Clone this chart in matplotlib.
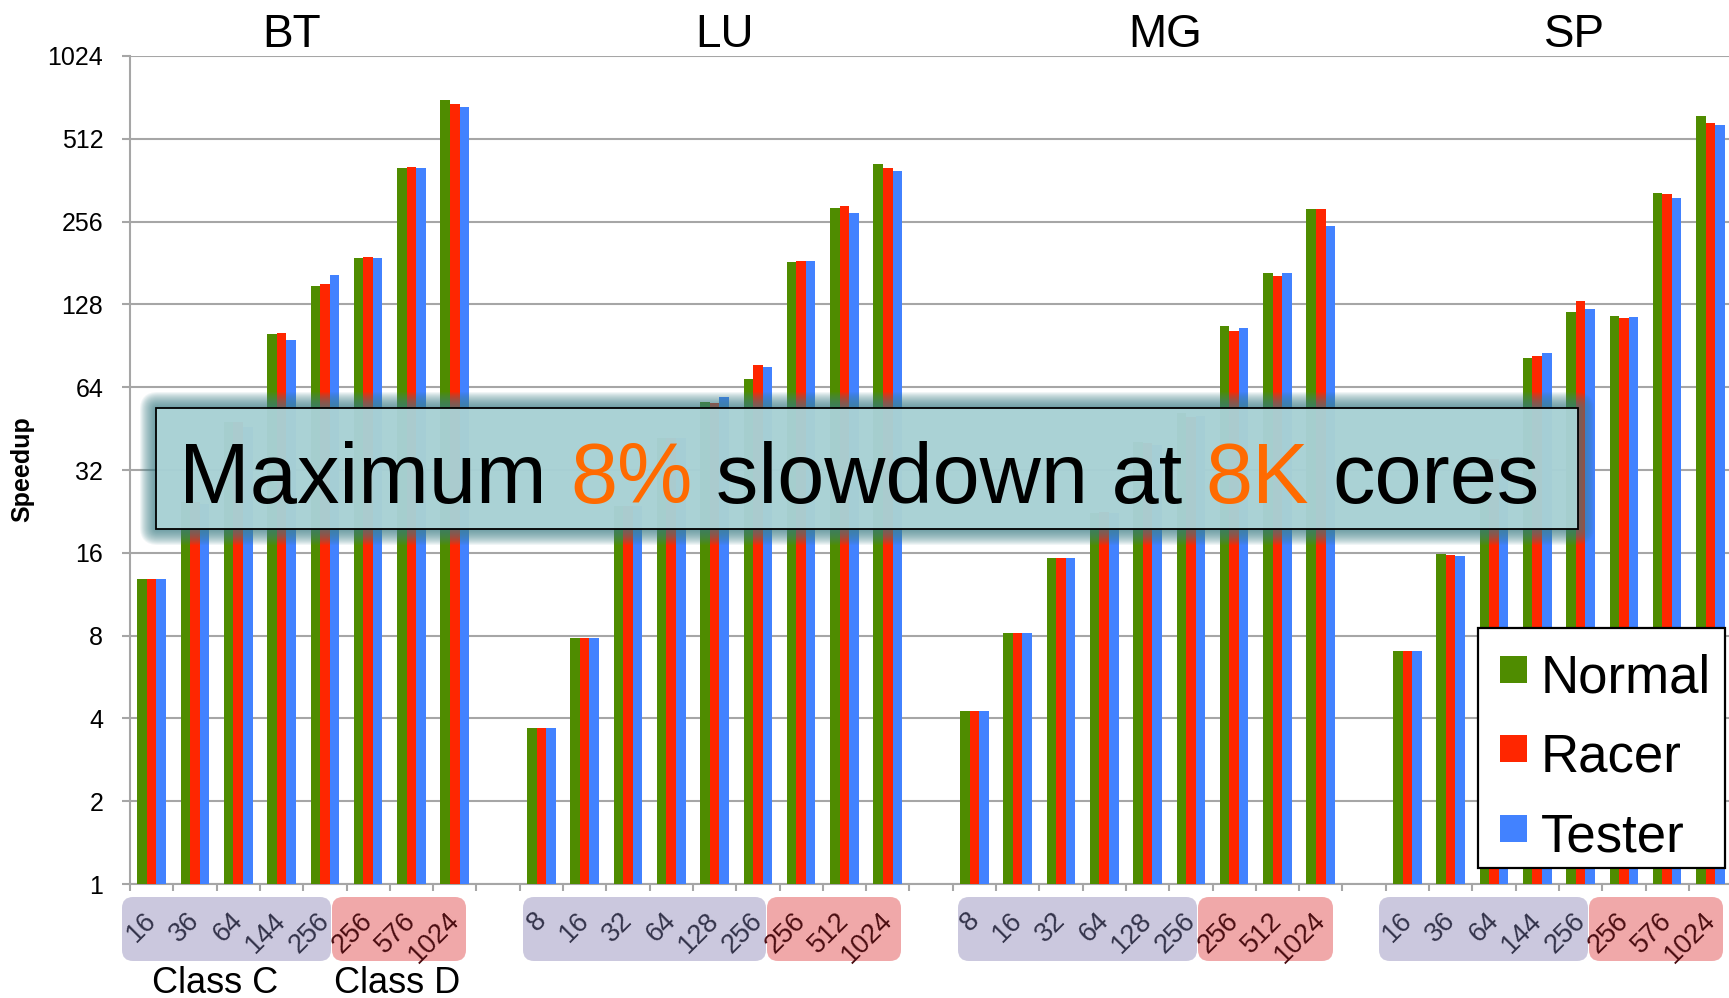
import matplotlib
matplotlib.use('Agg')
import matplotlib.pyplot as plt
from matplotlib.patches import FancyBboxPatch, Rectangle
from matplotlib.transforms import ScaledTranslation

plt.rcParams['font.family'] = ['Liberation Sans', 'DejaVu Sans']

# ---------------- data ----------------
benchmarks = ['BT', 'LU', 'MG', 'SP']
series = ['Normal', 'Racer', 'Tester']
colors = ['#4f8c00', '#ff2600', '#4282ff']

bt_procs = ['16', '36', '64', '144', '256', '256', '576', '1024']
bt_class = ['C', 'C', 'C', 'C', 'C', 'D', 'D', 'D']
bt_normal = [12.8, 24.5, 48, 99.8, 149, 188, 402, 708]
bt_racer = [12.8, 24.5, 48, 100.5, 151.5, 190, 405, 685]
bt_tester = [12.8, 24, 46, 94.7, 163.7, 188, 402, 666]

lu_procs = ['8', '16', '32', '64', '128', '256', '256', '512', '1024']
lu_class = ['C', 'C', 'C', 'C', 'C', 'C', 'D', 'D', 'D']
lu_normal = [3.68, 7.84, 23.7, 42, 56.4, 68.6, 182.6, 288, 415]
lu_racer = [3.68, 7.84, 23.7, 42, 55.9, 77, 184, 292, 402]
lu_tester = [3.68, 7.84, 23.7, 42, 59.1, 76, 184, 275, 391]

mg_procs = ['8', '16', '32', '64', '128', '256', '256', '512', '1024']
mg_class = ['C', 'C', 'C', 'C', 'C', 'C', 'D', 'D', 'D']
mg_normal = [4.25, 8.2, 15.3, 22.3, 40.5, 51.4, 107, 166, 284]
mg_racer = [4.25, 8.2, 15.3, 22.6, 40, 50, 102.7, 162, 284]
mg_tester = [4.25, 8.2, 15.3, 22.3, 39.5, 50.3, 105, 166, 247]

sp_procs = ['16', '36', '64', '144', '256', '256', '576', '1024']
sp_class = ['C', 'C', 'C', 'C', 'C', 'D', 'D', 'D']
sp_normal = [7.03, 15.8, 35, 81.5, 120.5, 116, 325, 620]
sp_racer = [7.03, 15.7, 35, 82.9, 131.6, 114, 322, 584]
sp_tester = [7.03, 15.6, 34.5, 85.5, 122.8, 115, 313, 574]

y_ticks = [1, 2, 4, 8, 16, 32, 64, 128, 256, 512, 1024]
class_names = ['Class C', 'Class D']
message = ['Maximum ', '8%', ' slowdown at ', '8K', ' cores']
message_orange = [False, True, False, True, False]

groups = [
    (bt_procs, bt_class, [bt_normal, bt_racer, bt_tester]),
    (lu_procs, lu_class, [lu_normal, lu_racer, lu_tester]),
    (mg_procs, mg_class, [mg_normal, mg_racer, mg_tester]),
    (sp_procs, sp_class, [sp_normal, sp_racer, sp_tester]),
]

# ---------------- layout ----------------
W, H = 1729, 998
fig = plt.figure(figsize=(W / 100, H / 100), dpi=100)
AX_L, AX_B, AX_T = 130, 884, 56
N_SLOTS = 37
SLOT_PX = 43.3
ax = fig.add_axes([AX_L / W, (H - AX_B) / H, N_SLOTS * SLOT_PX / W, (AX_B - AX_T) / H])

ov = fig.add_axes([0, 0, 1, 1], zorder=10)
ov.set_xlim(0, W)
ov.set_ylim(H, 0)
ov.axis('off')
ov.patch.set_alpha(0)

grid_col = '#a6a6a6'
bw = 0.22
group_start = [0, 9, 19, 29]

centers, labels, lab_cls = [], [], []
for g, (procs, cls, vals) in enumerate(groups):
    xs = [group_start[g] + i + 0.5 for i in range(len(procs))]
    for s in range(3):
        ax.bar([x + (s - 1) * bw for x in xs], vals[s], width=bw, color=colors[s],
               edgecolor='none', zorder=3)
    centers += xs
    labels += procs
    lab_cls += cls

ax.set_yscale('log', base=2)
ax.set_ylim(1, 1024)
ax.set_xlim(0, N_SLOTS)
ax.set_yticks(y_ticks)
ax.set_yticklabels([str(v) for v in y_ticks], fontsize=18)
ax.yaxis.set_minor_locator(matplotlib.ticker.NullLocator())
ax.grid(axis='y', color=grid_col, linewidth=1.5, zorder=0)
ax.set_axisbelow(True)
for sp in ['top', 'right']:
    ax.spines[sp].set_visible(False)
for sp in ['left', 'bottom']:
    ax.spines[sp].set_color(grid_col)
    ax.spines[sp].set_linewidth(1.5)
ax.tick_params(axis='y', length=5.8, width=1.5, color=grid_col, pad=13.5, labelcolor='black')

ax.set_xticks(centers)
ax.set_xticklabels(labels, rotation=45, ha='right', va='top', fontsize=19.5)
ax.set_xticks(list(range(N_SLOTS + 1)), minor=True)
ax.tick_params(axis='x', which='major', length=0, pad=17)
ax.tick_params(axis='x', which='minor', length=5, width=1.5, color=grid_col)
off = ScaledTranslation(10 / 100, 0, fig.dpi_scale_trans)
for lab, c in zip(ax.get_xticklabels(), lab_cls):
    lab.set_color('#33334a' if c == 'C' else '#4a0c10')
    lab.set_transform(lab.get_transform() + off)
    lab.set_zorder(12)

# class boxes behind tick labels
class_boxes = [(122, 331, 'C'), (332, 466, 'D'), (523, 766, 'C'), (767, 901, 'D'),
               (958, 1197, 'C'), (1198, 1333, 'D'), (1379, 1588, 'C'), (1589, 1723, 'D')]
for x0, x1, c in class_boxes:
    fc = '#cbc8de' if c == 'C' else '#f0a8a9'
    ov.add_patch(FancyBboxPatch((x0, 897), x1 - x0, 64,
                                boxstyle='round,pad=0,rounding_size=11',
                                facecolor=fc, edgecolor='none', zorder=1))
ax.set_zorder(11)
ax.patch.set_alpha(0)

ov.text(215, 993, class_names[0], fontsize=26, ha='center', va='baseline')
ov.text(397, 993, class_names[1], fontsize=26, ha='center', va='baseline')

# titles
title_x = [292, 725, 1165, 1574]
for name, tx in zip(benchmarks, title_x):
    ov.text(tx, 47, name, fontsize=33, ha='center', va='baseline')

fig.text(22 / W, 1 - 469 / H, 'Speedup', rotation=90, fontsize=18, fontweight='bold',
         ha='center', va='center')

# ---------------- overlay annotation box ----------------
ov2 = fig.add_axes([0, 0, 1, 1], zorder=20)
ov2.set_xlim(0, W)
ov2.set_ylim(H, 0)
ov2.axis('off')
ov2.patch.set_alpha(0)

bx0, by0, bx1, by1 = 156, 408, 1578, 529
for k in range(16, 0, -1):
    ov2.add_patch(FancyBboxPatch((bx0 - k, by0 - k), bx1 - bx0 + 2 * k, by1 - by0 + 2 * k,
                                 boxstyle='round,pad=0,rounding_size=%d' % (k + 2),
                                 facecolor='#3d7f87', edgecolor='none', alpha=0.075))
ov2.add_patch(Rectangle((bx0, by0), bx1 - bx0, by1 - by0, facecolor='#b1d8db',
                        edgecolor='none', alpha=0.9))
ov2.add_patch(Rectangle((bx0, by0), bx1 - bx0, by1 - by0, facecolor='none',
                        edgecolor='black', linewidth=1.3))

renderer = fig.canvas.get_renderer()
tx0, tyb, tfs = 179, 503, 61


def ink_width(s):
    t = ov2.text(tx0, tyb, s.rstrip(), fontsize=tfs, ha='left', va='baseline')
    w = t.get_window_extent(renderer).width
    t.remove()
    return w


prefix = ''
for piece, orange in zip(message, message_orange):
    prefix += piece
    right = tx0 + ink_width(prefix)
    ov2.text(right, tyb, piece.strip(), fontsize=tfs, ha='right', va='baseline',
             color='#ff6a00' if orange else 'black')

# ---------------- legend ----------------
ov2.add_patch(Rectangle((1478, 628), 247, 240, facecolor='white', edgecolor='black',
                        linewidth=1.6))
leg_y = [655.7, 735.3, 815]
for name, col, y in zip(series, colors, leg_y):
    ov2.add_patch(Rectangle((1500, y), 27, 27, facecolor=col, edgecolor='none'))
    ov2.text(1541, y + 36.5, name, fontsize=38, ha='left', va='baseline')

fig.savefig('out.png', dpi=100)
